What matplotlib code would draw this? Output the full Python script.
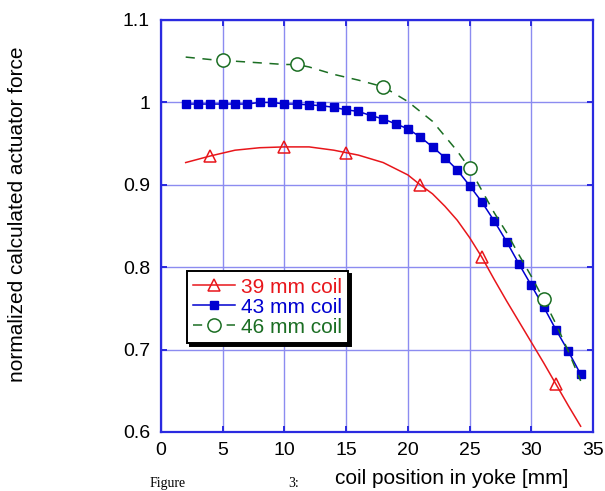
import matplotlib
matplotlib.use("Agg")
import matplotlib.pyplot as plt

plt.rcParams['font.family'] = ['Liberation Sans', 'DejaVu Sans']

# 43 mm coil
x43 = list(range(2, 35))
y43 = [0.998, 0.998, 0.998, 0.998, 0.998, 0.998, 1.000, 1.000, 0.998, 0.998,
       0.997, 0.996, 0.994, 0.991, 0.989, 0.984, 0.980, 0.974, 0.968, 0.958,
       0.946, 0.933, 0.918, 0.899, 0.879, 0.856, 0.831, 0.804, 0.778, 0.752,
       0.724, 0.698, 0.670]

# 39 mm coil (line) with markers at selected positions
x39 = [2, 4, 6, 8, 10, 12, 14, 15, 16, 18, 20, 21, 22, 23, 24, 25, 26, 27, 28,
       29, 30, 31, 32, 33, 34]
y39 = [0.927, 0.935, 0.942, 0.945, 0.946, 0.946, 0.942, 0.939, 0.936, 0.927,
       0.912, 0.900, 0.889, 0.874, 0.857, 0.836, 0.812, 0.785, 0.759, 0.734,
       0.709, 0.684, 0.658, 0.632, 0.607]
mark39 = [4, 10, 15, 21, 26, 32]

# 46 mm coil
x46 = [2, 4, 5, 6, 8, 10, 11, 12, 14, 16, 18, 20, 22, 24, 25, 26, 27, 28, 29,
       30, 31, 32, 33, 34]
y46 = [1.055, 1.052, 1.051, 1.050, 1.048, 1.046, 1.046, 1.043, 1.034, 1.027,
       1.019, 1.001, 0.977, 0.941, 0.920, 0.893, 0.866, 0.842, 0.815, 0.789,
       0.761, 0.731, 0.698, 0.662]
mark46 = [5, 11, 18, 25, 31]

xticks = [0, 5, 10, 15, 20, 25, 30, 35]
yticks = [0.6, 0.7, 0.8, 0.9, 1.0, 1.1]
ytick_labels = ['0.6', '0.7', '0.8', '0.9', '1', '1.1']

red = '#e8161b'
blue = '#0000d0'
green = '#1b6e23'

fig = plt.figure(figsize=(6.05, 4.91), dpi=100)
ax = fig.add_axes([161/605, 1-432/491, 432/605, 412/491])

ax.plot(x39, y39, color=red, lw=1.1, marker='^', ms=8.5, mfc='none', mec=red,
        mew=1.1, markevery=[x39.index(v) for v in mark39], label='39 mm coil')
ax.plot(x43, y43, color=blue, lw=1.1, marker='s', ms=6.2, mfc=blue, mec=blue,
        label='43 mm coil')
ax.plot(x46, y46, color=green, lw=1.1, ls=(0, (6, 5)), marker='o', ms=9.5,
        mfc='white', mec=green, mew=1.1,
        markevery=[x46.index(v) for v in mark46], label='46 mm coil')

ax.set_xlim(0, 35)
ax.set_ylim(0.6, 1.1)
ax.set_xticks(xticks)
ax.set_yticks(yticks)
ax.set_yticklabels(ytick_labels)
ax.grid(True, color='#8c8cf0', lw=1.0)
ax.set_axisbelow(True)
for s in ax.spines.values():
    s.set_color('#2a2ae0')
    s.set_linewidth(1.6)
ax.tick_params(direction='in', length=4, width=1.4, color='#2a2ae0',
               labelsize=14, labelcolor='black', top=True, right=True)
ax.tick_params(axis='y', pad=8)
ax.tick_params(axis='x', pad=7)

leg = ax.legend(loc='upper left', bbox_to_anchor=(0.06, 0.39), borderaxespad=0,
                fancybox=False, frameon=True, fontsize=15, handlelength=2.0,
                handletextpad=0.3, labelspacing=0.05, borderpad=0.3,
                shadow={'color': 'black', 'alpha': 1.0})
leg.get_frame().set_edgecolor('black')
leg.get_frame().set_linewidth(1.4)
for t, c in zip(leg.get_texts(), [red, blue, green]):
    t.set_color(c)

fig.text(452/605, 1-478/491, 'coil position in yoke [mm]', ha='center',
         va='center', fontsize=15)
fig.text(18/605, 1-214/491, 'normalized calculated actuator force',
         rotation=90, ha='center', va='center', fontsize=15)
fig.text(150/605, 1-490/491, 'Figure', family=['Liberation Serif'],
         fontsize=10, va='bottom', ha='left')
fig.text(288/605, 1-490/491, '3:', family=['Liberation Serif'],
         fontsize=10, va='bottom', ha='left')

fig.savefig('out.png', dpi=100)
